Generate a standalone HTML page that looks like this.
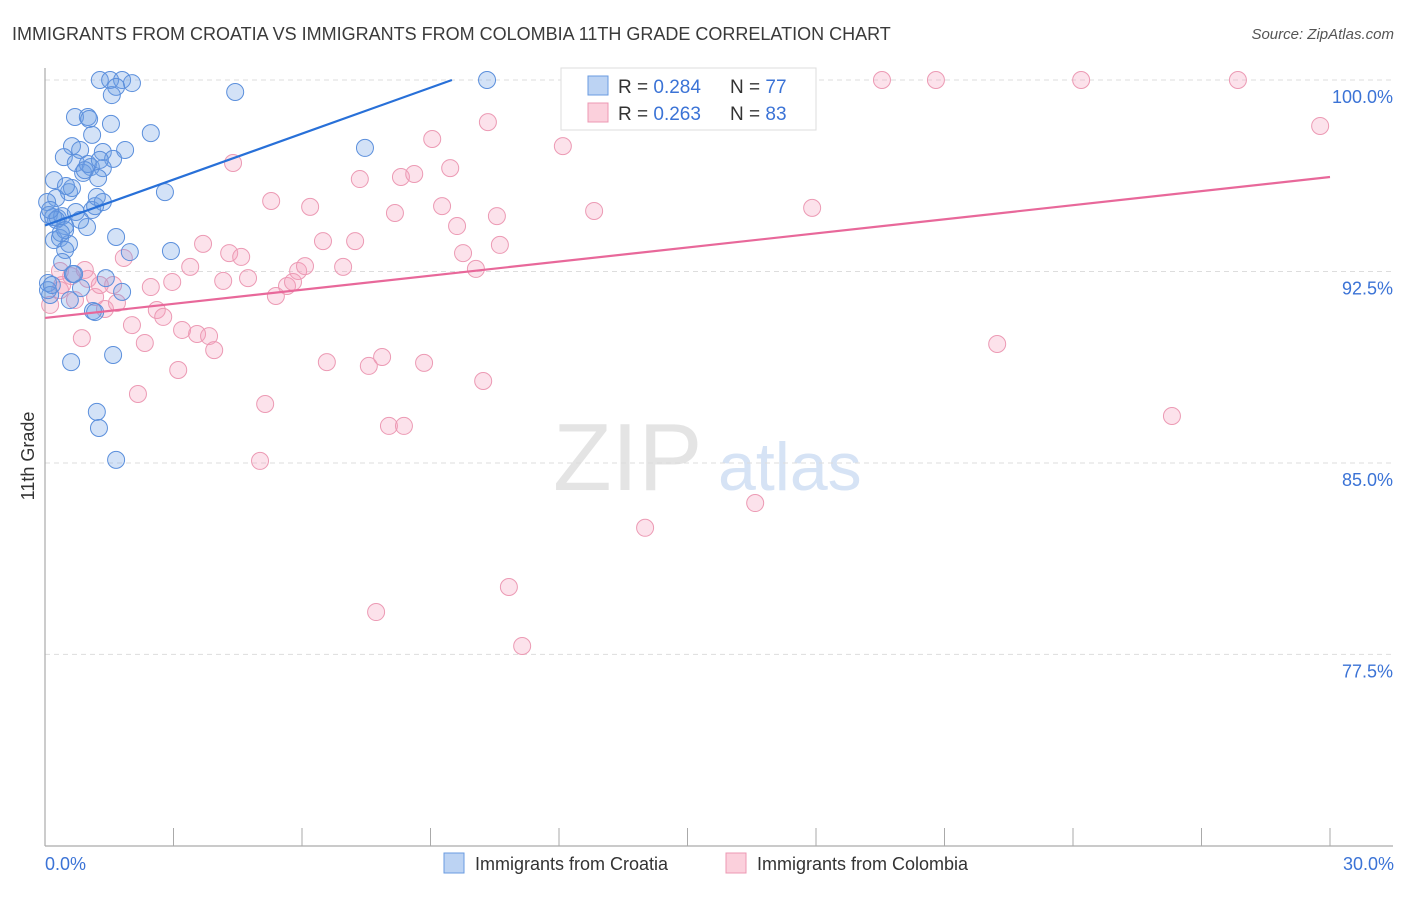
<!DOCTYPE html>
<html><head><meta charset="utf-8"><style>
body{margin:0;background:#fff;font-family:"Liberation Sans",sans-serif;}
svg text{font-family:"Liberation Sans",sans-serif;}
</style></head><body>
<svg id="chart" width="1406" height="892" xmlns="http://www.w3.org/2000/svg">
<text x="12" y="40" font-size="18" fill="#3a3a3a">IMMIGRANTS FROM CROATIA VS IMMIGRANTS FROM COLOMBIA 11TH GRADE CORRELATION CHART</text>
<text x="1394" y="39" font-size="15" fill="#555" font-style="italic" text-anchor="end">Source: ZipAtlas.com</text>
<text x="553" y="490" font-size="96" fill="#e4e4e4" font-family="Liberation Serif">ZIP</text>
<text x="718" y="490" font-size="68" fill="#d6e3f5">atlas</text>
<g id="grid"></g>
<line x1="45" y1="68" x2="45" y2="846" stroke="#aaa" stroke-width="1.2"/>
<line x1="45" y1="846" x2="1393" y2="846" stroke="#aaa" stroke-width="1.2"/>
<g id="xticks"></g>
<text transform="translate(34,456) rotate(-90)" font-size="18" fill="#333" text-anchor="middle">11th Grade</text>
<text x="45" y="870" font-size="18" fill="#3b73d6">0.0%</text>
<text x="1394" y="870" font-size="18" fill="#3b73d6" text-anchor="end">30.0%</text>
<g id="points"></g>
<g id="lines"></g>
<g>
<rect x="561" y="68" width="255" height="62" fill="#fff" stroke="#ddd"/>
<rect x="588" y="76" width="20" height="19" fill="#bcd3f3" stroke="#6a9be0"/>
<rect x="588" y="103" width="20" height="19" fill="#fbd0dc" stroke="#ec98b3"/>
<text x="618" y="93" font-size="19" fill="#333">R = <tspan fill="#3b73d6">0.284</tspan></text>
<text x="730" y="93" font-size="19" fill="#333">N = <tspan fill="#3b73d6">77</tspan></text>
<text x="618" y="120" font-size="19" fill="#333">R = <tspan fill="#3b73d6">0.263</tspan></text>
<text x="730" y="120" font-size="19" fill="#333">N = <tspan fill="#3b73d6">83</tspan></text>
</g>
<g>
<rect x="444" y="853" width="20" height="20" fill="#bcd3f3" stroke="#6a9be0"/>
<text x="475" y="870" font-size="18" fill="#333">Immigrants from Croatia</text>
<rect x="726" y="853" width="20" height="20" fill="#fbd0dc" stroke="#ec98b3"/>
<text x="757" y="870" font-size="18" fill="#333">Immigrants from Colombia</text>
</g>
</svg>
<script>
const yTicks=[100,92.5,85,77.5];
const yTickLabels=["100.0%","92.5%","85.0%","77.5%"];
const xTickVals=[0,3,6,9,12,15,18,21,24,27,30];
const croatiaX=[1.28,1.52,1.80,2.03,1.66,1.56,4.44,10.32,0.70,1.00,1.03,1.54,1.10,2.47,0.63,0.44,0.82,1.35,1.87,7.47,0.72,1.59,1.07,1.35,0.89,0.21,0.56,0.63,1.24,2.80,0.26,0.05,0.09,0.19,0.30,0.40,0.72,0.47,0.98,1.10,1.17,1.35,1.66,0.21,0.35,0.56,0.47,1.98,2.94,0.40,0.65,1.42,0.07,0.07,0.12,0.84,1.80,0.58,1.12,1.17,0.61,1.59,1.21,1.26,1.66,0.26,0.82,0.47,0.16,0.68,0.37,1.21,1.00,0.12,1.28,0.49,0.93];
const croatiaY=[100,100,100,99.88,99.73,99.41,99.53,100,98.55,98.55,98.47,98.28,97.85,97.92,97.41,96.98,97.26,97.18,97.26,97.34,96.75,96.91,96.59,96.55,96.36,96.08,95.61,95.77,96.16,95.61,95.38,95.22,94.71,94.63,94.59,94.67,94.83,94.28,94.24,94.91,95.06,95.22,93.85,93.73,93.81,93.58,93.34,93.26,93.30,92.87,92.40,92.24,92.05,91.77,91.58,91.85,91.70,91.38,90.95,90.91,88.95,89.23,87.00,86.37,85.12,94.52,94.52,94.12,91.97,92.40,94.01,95.42,96.71,94.91,96.87,95.85,96.47];
const colombiaX=[13.82,15.15,19.54,20.80,24.19,27.85,29.77,10.34,9.04,12.09,4.39,9.46,7.35,8.31,8.62,5.28,6.19,8.17,9.27,10.55,12.82,17.91,9.62,3.69,4.30,4.58,6.49,7.24,10.62,9.76,1.84,3.39,5.91,6.07,6.96,10.06,0.35,1.00,0.40,0.61,4.74,4.16,2.47,2.97,5.65,5.79,5.39,1.17,1.40,1.68,1.59,2.61,2.76,2.03,3.20,3.55,3.83,2.33,3.95,0.86,6.58,7.56,7.87,8.85,3.11,10.23,2.17,5.14,8.03,8.38,5.02,16.58,14.01,10.83,7.73,11.14,22.23,26.31,0.12,0.35,1.28,0.70,0.93];
const colombiaY=[100,100,100,100,100,100,98.20,98.35,97.69,97.41,96.75,96.55,96.12,96.20,96.32,95.26,95.03,94.79,95.06,94.67,94.87,94.99,94.28,93.58,93.22,93.07,93.69,93.69,93.54,93.22,93.03,92.68,92.52,92.71,92.68,92.60,92.52,92.21,91.97,92.32,92.24,92.13,91.89,92.09,91.93,92.09,91.54,91.50,91.03,91.27,91.97,90.99,90.72,90.40,90.21,90.05,89.97,89.70,89.42,89.89,88.95,88.80,89.15,88.92,88.64,88.21,87.70,87.31,86.45,86.45,85.08,83.43,82.46,80.14,79.16,77.83,89.66,86.84,91.19,91.77,91.97,91.38,92.56];
const croatiaTrend=[[0,94.3],[9.5,100]];
const colombiaTrend=[[0,90.68],[30,96.2]];
const NS="http://www.w3.org/2000/svg";
const X0=45,X1=1330,YTOP=80,PXPER=25.53;
function xs(v){return X0+v*(X1-X0)/30;}
function ys(v){return YTOP+(100-v)*PXPER;}
function mk(t,a){const e=document.createElementNS(NS,t);for(const k in a)e.setAttribute(k,a[k]);return e;}
const grid=document.getElementById('grid');
yTicks.forEach((t,i)=>{
 const l=mk('line',{x1:45,x2:1393,y1:ys(t),y2:ys(t),stroke:'#ddd','stroke-dasharray':'5,4'});
 
 
 grid.appendChild(l);
 const tx=mk('text',{x:1393,y:ys(t)+23,'font-size':18,fill:'#3b73d6','text-anchor':'end'});
 
 
 tx.textContent=yTickLabels[i];grid.appendChild(tx);
});
const xt=document.getElementById('xticks');
xTickVals.forEach(v=>{
 const l=mk('line',{x1:xs(v),x2:xs(v),y1:828,y2:846,stroke:'#aaa'});
 
 
 xt.appendChild(l);
});
const pg=document.getElementById('points');
function drawSeries(xa,ya,fill,stroke,name){
 xa.forEach((x,i)=>{
  const c=mk('circle',{cx:xs(x),cy:ys(ya[i]),r:8.5,fill:fill,stroke:stroke,'stroke-width':1});
  
  
  pg.appendChild(c);
 });
}
drawSeries(colombiaX,colombiaY,'rgba(244,160,188,0.3)','#ec9ab4','colombia-point');
drawSeries(croatiaX,croatiaY,'rgba(110,160,230,0.3)','#5b8fdc','croatia-point');
const lg=document.getElementById('lines');
function trend(p,col,name){
 const l=mk('line',{x1:xs(p[0][0]),y1:ys(p[0][1]),x2:xs(p[1][0]),y2:ys(p[1][1]),stroke:col,'stroke-width':2.2});
 
 
 lg.appendChild(l);
}
trend(croatiaTrend,'#2870d8','croatia-trendline');
trend(colombiaTrend,'#e8689a','colombia-trendline');
</script>
</body></html>
